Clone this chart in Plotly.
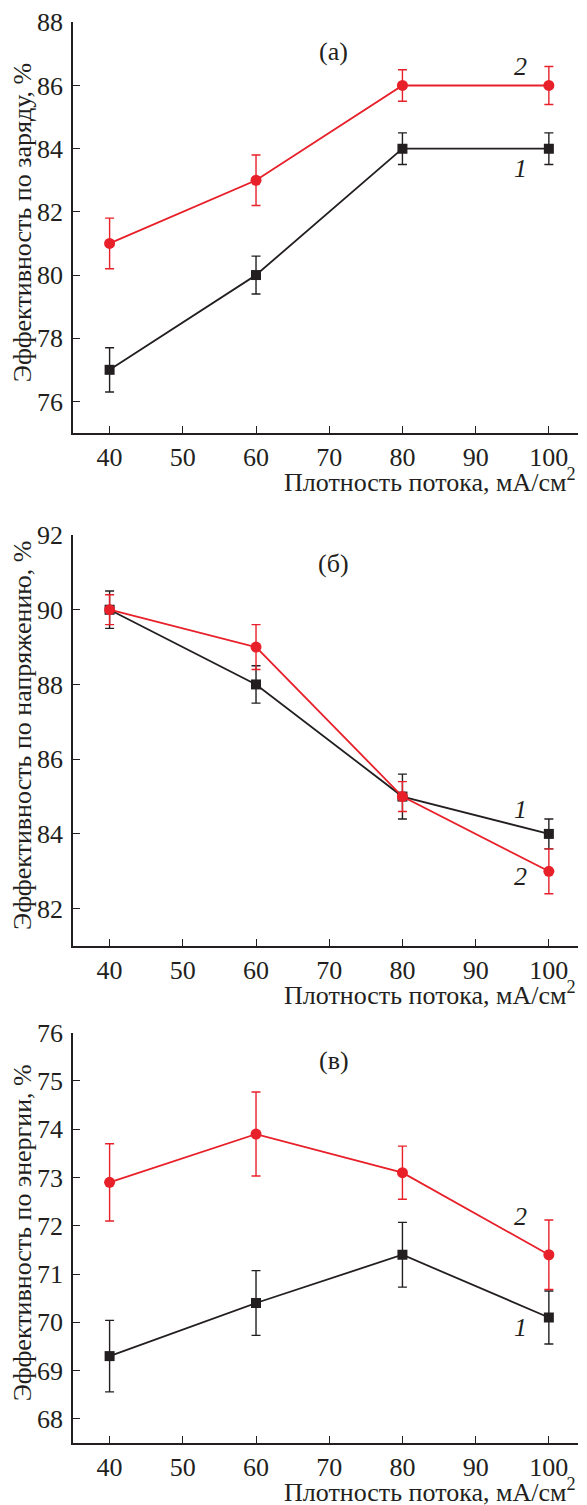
import plotly.graph_objects as go
from plotly.subplots import make_subplots

x_vals = [40, 60, 80, 100]

# Panel (a): charge efficiency
a_s1 = [77, 80, 84, 84]
a_s1_err = [0.7, 0.6, 0.5, 0.5]
a_s2 = [81, 83, 86, 86]
a_s2_err = [0.8, 0.8, 0.5, 0.6]

# Panel (б): voltage efficiency
b_s1 = [90, 88, 85, 84]
b_s1_err = [0.5, 0.5, 0.6, 0.4]
b_s2 = [90, 89, 85, 83]
b_s2_err = [0.4, 0.6, 0.4, 0.6]

# Panel (в): energy efficiency
c_s1 = [69.3, 70.4, 71.4, 70.1]
c_s1_err = [0.74, 0.67, 0.67, 0.55]
c_s2 = [72.9, 73.9, 73.1, 71.4]
c_s2_err = [0.8, 0.87, 0.55, 0.72]

panel_labels = ["(а)", "(б)", "(в)"]
y_titles = ["Эффективность по заряду, %",
            "Эффективность по напряжению, %",
            "Эффективность по энергии, %"]
x_title = "Плотность потока, мА/см<sup>2</sup>"
y_ranges = [[75, 88], [81, 92], [67.5, 76]]
y_dticks = [2, 2, 1]
y_tick0 = [76, 82, 68]
panel_label_y = [87.07, 91.25, 75.43]
curve_labels = [
    [("2", 96.1, 86.6), ("1", 96.1, 83.38)],
    [("1", 96.1, 84.65), ("2", 96.1, 82.86)],
    [("2", 96.1, 72.2), ("1", 96.1, 69.89)],
]

BLACK = "#231f20"
RED = "#e8202a"
FONT = "Liberation Serif"
FS = 26

fig = make_subplots(rows=3, cols=1)

series = [
    (a_s1, a_s1_err, a_s2, a_s2_err),
    (b_s1, b_s1_err, b_s2, b_s2_err),
    (c_s1, c_s1_err, c_s2, c_s2_err),
]

for i, (s1, e1, s2, e2) in enumerate(series):
    r = i + 1
    fig.add_trace(go.Scatter(
        x=x_vals, y=s1, mode="lines+markers",
        line=dict(color=BLACK, width=1.8),
        marker=dict(symbol="square", size=10, color=BLACK),
        error_y=dict(type="data", array=e1, color=BLACK, thickness=1.4, width=4.5),
        showlegend=False), row=r, col=1)
    fig.add_trace(go.Scatter(
        x=x_vals, y=s2, mode="lines+markers",
        line=dict(color=RED, width=1.8),
        marker=dict(symbol="circle", size=11, color=RED),
        error_y=dict(type="data", array=e2, color=RED, thickness=1.4, width=4.5),
        showlegend=False), row=r, col=1)

# figure placed at (8,8) in the page by the default body margin;
# the visible area ends at page x ~579
OFF = 8
W, H = 587 - OFF, 1505 - OFF
ML, MR, MT, MB = 65, 9, 14, 62
ph = H - MT - MB
pw = W - ML - MR
# target page pixels of each panel: (top, bottom)
panel_px = [(22.3, 433), (535, 946), (1032.7, 1443)]
domains = []
for top, bot in panel_px:
    t = top - OFF - MT
    b = bot - OFF - MT
    domains.append([max(0.0, 1 - b / ph), min(1.0, 1 - t / ph)])

axis_common = dict(showline=True, linecolor=BLACK, linewidth=1.5,
                   ticks="inside", ticklen=7, tickwidth=1.3, tickcolor=BLACK,
                   showgrid=False, zeroline=False, automargin=False,
                   tickfont=dict(family=FONT, size=FS, color=BLACK))

for i in range(3):
    xa = "xaxis" if i == 0 else f"xaxis{i+1}"
    ya = "yaxis" if i == 0 else f"yaxis{i+1}"
    fig.layout[xa].update(range=[35, 103.98], tickmode="linear", tick0=40, dtick=10,
                          **axis_common)
    fig.layout[ya].update(range=y_ranges[i], domain=domains[i], tickmode="linear",
                          tick0=y_tick0[i], dtick=y_dticks[i],
                          ticklabelstandoff=3, **axis_common)
    xref = "x" if i == 0 else f"x{i+1}"
    yref = "y" if i == 0 else f"y{i+1}"
    # panel label
    fig.add_annotation(x=70.6, y=panel_label_y[i], xref=xref, yref=yref,
                       text=panel_labels[i], showarrow=False,
                       font=dict(family=FONT, size=FS, color=BLACK))
    # curve labels
    for txt, lx, ly in curve_labels[i]:
        fig.add_annotation(x=lx, y=ly, xref=xref, yref=yref,
                           text=f"<i>{txt}</i>", showarrow=False,
                           font=dict(family=FONT, size=FS, color=BLACK))
    # x-axis title (right aligned)
    fig.add_annotation(x=1.0, y=0, xref="paper",
                       yref=f"{yref} domain",
                       xanchor="right", yanchor="top", yshift=-29,
                       text=x_title, showarrow=False,
                       font=dict(family=FONT, size=FS, color=BLACK))
    # y-axis title
    fig.add_annotation(x=(22.5 - OFF - ML) / pw, y=0.5, xref="paper",
                       yref=f"{yref} domain",
                       xanchor="center", yanchor="middle", yshift=5,
                       textangle=-90, text=y_titles[i], showarrow=False,
                       font=dict(family=FONT, size=FS, color=BLACK))

fig.update_layout(width=W, height=H,
                  margin=dict(l=ML, r=MR, t=MT, b=MB, autoexpand=False),
                  plot_bgcolor="white", paper_bgcolor="white",
                  font=dict(family=FONT, size=FS, color=BLACK))

fig.write_html("out.html")
